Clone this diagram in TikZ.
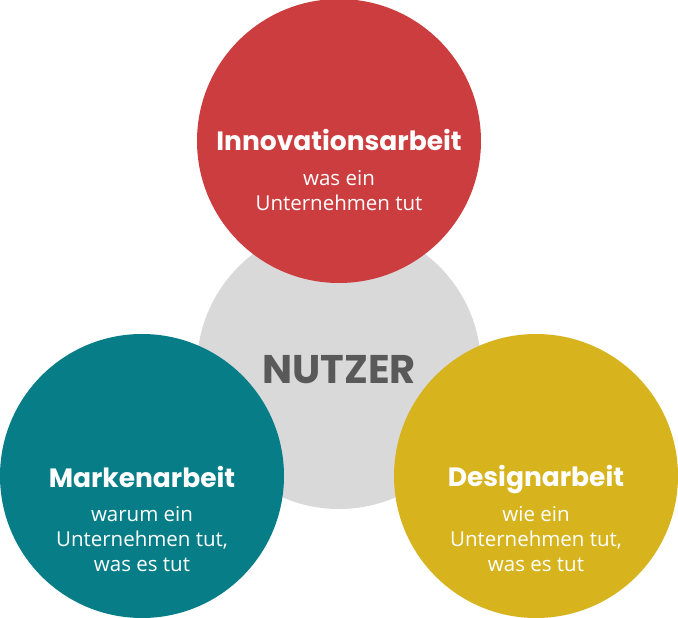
\documentclass[tikz,border=0pt]{standalone}
\usepackage{fontspec}
\setmainfont{Open Sans}
\newfontfamily\headfont{Poppins}
\usetikzlibrary{positioning}
\definecolor{userGray}{HTML}{D9D9D9}
\definecolor{innoRed}{HTML}{CC3D3F}
\definecolor{brandTeal}{HTML}{077E87}
\definecolor{designGold}{HTML}{D7B41E}
\definecolor{userText}{HTML}{595959}
\tikzset{
	blob/.style={circle,minimum size=284pt,inner sep=0pt},
	head/.style={font=\headfont\bfseries\fontsize{26.5}{30}\selectfont,text=white,inner sep=0pt,anchor=base},
	sub/.style={font=\fontsize{20.5}{25}\selectfont,text=white,align=center,inner sep=0pt,anchor=base},
}
\begin{document}
\begin{tikzpicture}[x=1pt,y=-1pt]
			\useasboundingbox (0,0) rectangle (678,618);
			%user in the middle
			\node[blob,fill=userGray] (user) at (339,367) {};
			\node[font=\headfont\bfseries\fontsize{40}{44}\selectfont,text=userText,anchor=base] (usertxt) at (339,383) {NUTZER};
			%innovation
			\node[blob,fill=innoRed] (inno) at (339,141) {};
			\node[head] (innohead) at (339,150) {Innovationsarbeit};
			\node[sub] (innosub) at (339,210) {was ein\\Unternehmen tut};
			%brand
			\node[blob,fill=brandTeal] (brand) at (142,476) {};
			\node[head] (brandhead) at (142,487) {Markenarbeit};
			\node[sub] (brandsub) at (142,571) {warum ein\\Unternehmen tut,\\was es tut};
			%design
			\node[blob,fill=designGold] (design) at (536,476) {};
			\node[head] (designhead) at (536,486) {Designarbeit};
			\node[sub] (designsub) at (536,571) {wie ein\\Unternehmen tut,\\was es tut};
		\end{tikzpicture}
\end{document}
